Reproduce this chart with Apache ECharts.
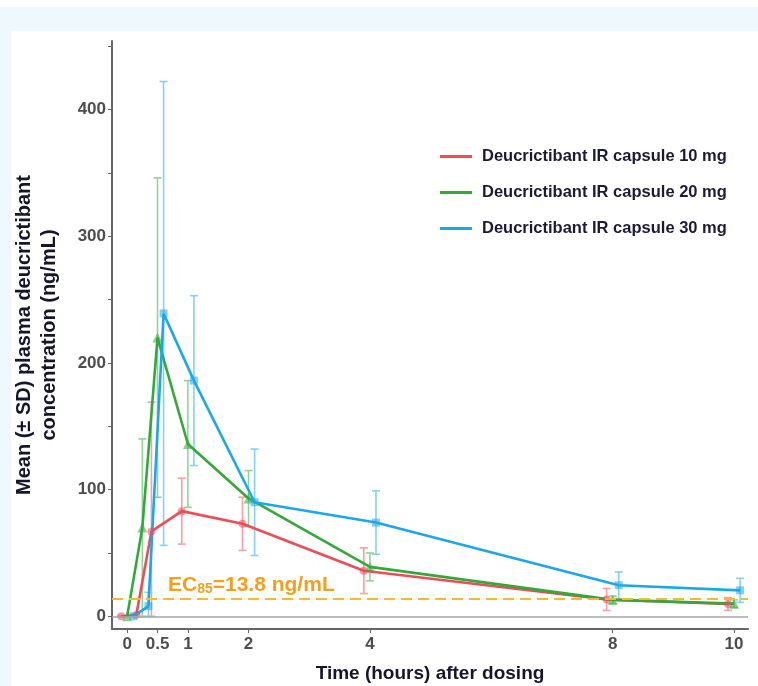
<!DOCTYPE html>
<html>
<head>
<meta charset="utf-8">
<title>Deucrictibant IR capsule PK</title>
<script src="https://cdn.jsdelivr.net/npm/echarts@6/dist/echarts.min.js"></script>
<style>
  html, body { margin: 0; padding: 0; background: #ffffff; }
  #frame { position: absolute; left: 0; top: 7px; width: 758px; height: 679px; background: #eff9fd; }
  #main { position: absolute; left: 11px; top: 31px; width: 747px; height: 655px; background: #ffffff; }
</style>
</head>
<body>
<div id="frame"></div>
<div id="main"></div>
<script>
// sampling times (hours)
var times = [0, 0.25, 0.5, 1, 2, 4, 8, 10];
// mean and SD (ng/mL)
var mean10 = [0, 1, 67, 83, 73, 36, 13.3, 9.7];
var sd10   = [0, 1, 102, 26, 21, 18, 8.7, 5];
var mean20 = [0, 70, 220, 136, 93, 39, 13, 10];
var sd20   = [0, 70, 126, 50, 22, 11, 3, 3];
var mean30 = [0, 8, 239, 186, 90, 74, 24.5, 20.5];
var sd30   = [0, 11, 183, 67, 42, 25, 10.5, 9.5];

var names = ['Deucrictibant IR capsule 10 mg', 'Deucrictibant IR capsule 20 mg', 'Deucrictibant IR capsule 30 mg'];
var xTicks = [0, 0.5, 1, 2, 4, 8, 10];
var yLabels = [0, 100, 200, 300, 400];
var yTicks = [0, 50, 100, 150, 200, 250, 300, 350, 400, 450];
var ec85 = 13.8;

var dodge = [-0.1, 0, 0.1]; // position_dodge like offsets
var colors = ['#ec4d57', '#34a83a', '#1ba7ea'];
var barColors = ['#f4a0a5', '#93d396', '#86d0f4'];
var symbols = ['circle', 'triangle', 'rect'];
var symSize = [8, 10, 8];

var FONT = "'Liberation Sans', Arial, sans-serif";

function points(mean, k) {
	var out = [];
	for (var i = 0; i < times.length; i++) {
		out.push([times[i] + dodge[k], mean[i]]);
	}
	return out;
}
function bars(mean, sd, k) {
	var out = [];
	for (var i = 0; i < times.length; i++) {
		out.push([times[i] + dodge[k], Math.max(0, mean[i] - sd[i]), mean[i] + sd[i]]);
	}
	return out;
}

function renderBar(params, api) {
	var x = api.value(0);
	var lo = api.coord([x, api.value(1)]);
	var hi = api.coord([x, api.value(2)]);
	var w = 4;
	var st = { stroke: api.visual('color'), lineWidth: 1.6 };
	return {
		type: 'group',
		children: [
			{ type: 'line', shape: { x1: lo[0], y1: lo[1], x2: hi[0], y2: hi[1] }, style: st },
			{ type: 'line', shape: { x1: hi[0] - w, y1: hi[1], x2: hi[0] + w, y2: hi[1] }, style: st },
			{ type: 'line', shape: { x1: lo[0] - w, y1: lo[1], x2: lo[0] + w, y2: lo[1] }, style: st }
		]
	};
}

var means = [mean10, mean20, mean30];
var sds = [sd10, sd20, sd30];
var series = [];

for (var k = 0; k < 3; k++) {
	series.push({
		name: 'err' + k,
		type: 'custom',
		renderItem: renderBar,
		itemStyle: { color: barColors[k] },
		data: bars(means[k], sds[k], k),
		z: 2
	});
}
for (var k = 0; k < 3; k++) {
	series.push({
		name: names[k],
		type: 'line',
		data: points(means[k], k),
		symbol: symbols[k],
		symbolSize: symSize[k],
		showSymbol: true,
		lineStyle: { color: colors[k], width: 2.6 },
		itemStyle: { color: colors[k], opacity: 0.55 },
		z: 4
	});
}

// zero line + EC85 threshold
series[3].markLine = {
	silent: true,
	symbol: ['none', 'none'],
	animation: false,
	data: [
		{ yAxis: 0, lineStyle: { color: '#a6a6a6', width: 1.6, type: 'solid' }, label: { show: false } },
		{
			yAxis: ec85,
			lineStyle: { color: '#f8b833', width: 2, type: [11, 6] },
			label: {
				show: true,
				position: 'insideStartTop',
				distance: 3,
				padding: [0, 0, 0, 53],
				formatter: '{a|EC}{b|85}{a|=13.8 ng/mL}',
				rich: {
					a: { fontFamily: FONT, fontSize: 21, fontWeight: 'bold', color: '#f4a01a', lineHeight: 26, verticalAlign: 'bottom' },
					b: { fontFamily: FONT, fontSize: 14, fontWeight: 'bold', color: '#f4a01a', lineHeight: 26, verticalAlign: 'bottom', padding: [10, 0, 0, 0] }
				}
			}
		}
	]
};

var myChart = echarts.init(document.getElementById('main'));
var option = {
	animation: false,
	grid: { left: 101, right: 10, top: 10, bottom: 57, outerBoundsMode: 'none', containLabel: false },
	legend: {
		orient: 'vertical',
		left: 424,
		top: 112,
		data: names,
		icon: 'rect',
		itemWidth: 32,
		itemHeight: 3,
		itemGap: 19,
		itemStyle: { opacity: 1 },
		textStyle: { fontFamily: FONT, fontSize: 16.5, fontWeight: 'bold', color: '#1b1b35', padding: [0, 0, 0, 5] }
	},
	xAxis: {
		type: 'value',
		min: -0.25,
		max: 10.23,
		name: 'Time (hours) after dosing',
		nameLocation: 'middle',
		nameGap: 35,
		nameTextStyle: { fontFamily: FONT, fontSize: 19, fontWeight: 'bold', color: '#15152b' },
		axisLine: { show: true, onZero: false, lineStyle: { color: '#666666', width: 2 } },
		axisTick: { show: true, customValues: xTicks, length: 4, lineStyle: { color: '#666666' } },
		axisLabel: {
			customValues: xTicks,
			fontFamily: FONT, fontSize: 17, fontWeight: 'bold', color: '#4d4d4d', margin: 7
		},
		splitLine: { show: false }
	},
	yAxis: {
		type: 'value',
		min: -10,
		max: 454,
		name: 'Mean (\u00b1 SD) plasma deucrictibant\nconcentration (ng/mL)',
		nameLocation: 'middle',
		nameRotate: 90,
		nameGap: 50,
		nameTextStyle: { fontFamily: FONT, fontSize: 20, fontWeight: 'bold', color: '#15152b', lineHeight: 25 },
		axisLine: { show: true, onZero: false, lineStyle: { color: '#666666', width: 2 } },
		axisTick: { show: true, customValues: yTicks, length: 4, lineStyle: { color: '#666666' } },
		axisLabel: {
			customValues: yLabels,
			fontFamily: FONT, fontSize: 17, fontWeight: 'bold', color: '#4d4d4d', margin: 6
		},
		splitLine: { show: false }
	},
	series: series
};
myChart.setOption(option);
</script>
</body>
</html>
